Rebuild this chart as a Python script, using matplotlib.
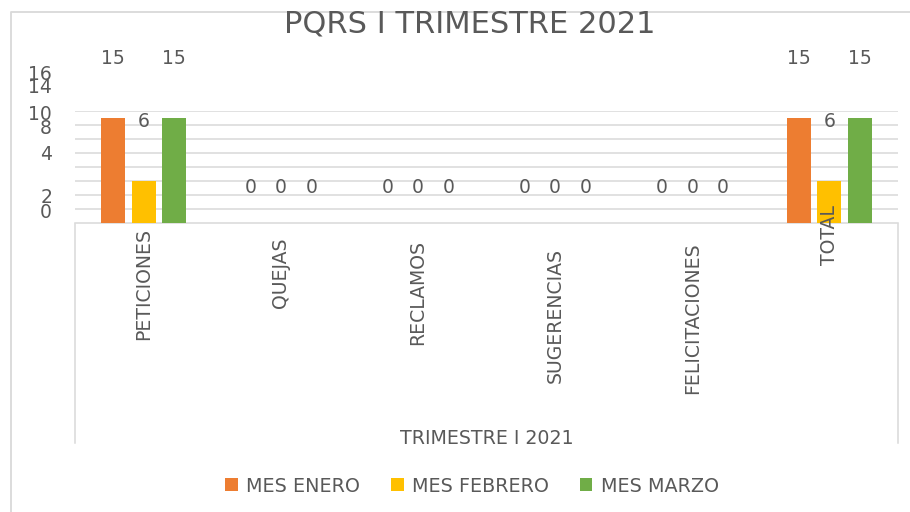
import matplotlib
matplotlib.use("Agg")
import matplotlib.pyplot as plt
import matplotlib.transforms as mtransforms
from matplotlib.patches import Patch
from matplotlib.lines import Line2D
import numpy as np

# ---- data ----
categories = ["PETICIONES", "QUEJAS", "RECLAMOS", "SUGERENCIAS", "FELICITACIONES", "TOTAL"]
series_names = ["MES ENERO", "MES FEBRERO", "MES MARZO"]
enero = [15, 0, 0, 0, 0, 15]
febrero = [6, 0, 0, 0, 0, 6]
marzo = [15, 0, 0, 0, 0, 15]
ytick_labels = ["16", "14", "10", "8", "4", "2", "0"]
group_label = "TRIMESTRE I 2021"
title = "PQRS I TRIMESTRE 2021"

# ---- style / layout ----
W, H = 910, 512
colors = ["#ED7D31", "#FFC000", "#70AD47"]
txt = "#595959"
grid_c = "#D9D9D9"
ytick_baseline_px = [80, 93, 120, 134, 160, 203, 218]   # glitchy label placement of the original
cat_label_top_px = [228, 237, 240, 248, 242, 205]

plt.rcParams["font.family"] = ["DejaVu Sans"]
fig = plt.figure(figsize=(W / 100, H / 100), dpi=100)

def fy(px):
    return 1 - px / H

def fx(px):
    return px / W

ax = fig.add_axes([fx(75), fy(222.7), fx(898) - fx(75), (222.7 - 111.2) / H])
ax.set_xlim(-0.5, len(categories) - 0.5)
ax.set_ylim(0, 16)
ax.set_yticks(np.arange(2, 17, 2))
ax.yaxis.grid(True, color=grid_c, linewidth=1.1)
ax.set_axisbelow(True)
ax.tick_params(left=False, bottom=False, labelleft=False, labelbottom=False)
for s in ["top", "right", "left"]:
    ax.spines[s].set_visible(False)
ax.spines["bottom"].set_color(grid_c)
ax.spines["bottom"].set_linewidth(1.1)

x = np.arange(len(categories))
bw = 0.175
step = 0.222
all_series = [enero, febrero, marzo]
for i, (vals, c) in enumerate(zip(all_series, colors)):
    xs = x + (i - 1) * step
    ax.bar(xs, vals, width=bw, color=c, zorder=3)
    for xi, v in zip(xs, vals):
        off = 29.4 if v == 0 else 54
        ax.annotate(str(v), (xi, v), xytext=(0, off), textcoords="offset pixels",
                    ha="center", va="baseline", fontsize=13.5, color=txt,
                    annotation_clip=False)

# category labels
bt = mtransforms.blended_transform_factory(ax.transData, fig.transFigure)
for xi, lab, top in zip(x, categories, cat_label_top_px):
    ax.text(xi, fy(top), lab, rotation=90, ha="center", va="top",
            fontsize=13.6, color=txt, transform=bt, clip_on=False)

# y tick labels
for lab, b in zip(ytick_labels, ytick_baseline_px):
    fig.text(fx(52), fy(b), lab, ha="right", va="baseline", fontsize=13.5, color=txt)

# category box lines
for px in (75, 898):
    fig.add_artist(Line2D([fx(px), fx(px)], [fy(224), fy(443)], transform=fig.transFigure,
                          color=grid_c, linewidth=1.1))
fig.text(fx(486.5), fy(444), group_label, ha="center", va="baseline", fontsize=13.7, color=txt)

# outer chart border
fig.add_artist(Line2D([fx(11), fx(11), fx(912)], [fy(514), fy(12), fy(12)],
                      transform=fig.transFigure, color=grid_c, linewidth=1.3))

# title
fig.text(fx(470), fy(33), title, ha="center", va="baseline", fontsize=22, color=txt)

# legend
handles = [Patch(facecolor=c, edgecolor="none") for c in colors]
fig.legend(handles, series_names, loc="center", bbox_to_anchor=(fx(472), fy(486)), ncol=3,
           frameon=False, fontsize=13.8, labelcolor=txt, handlelength=0.66, handleheight=0.66,
           handletextpad=0.44, columnspacing=1.6, borderpad=0, borderaxespad=0)

fig.savefig("out.png", dpi=100)
